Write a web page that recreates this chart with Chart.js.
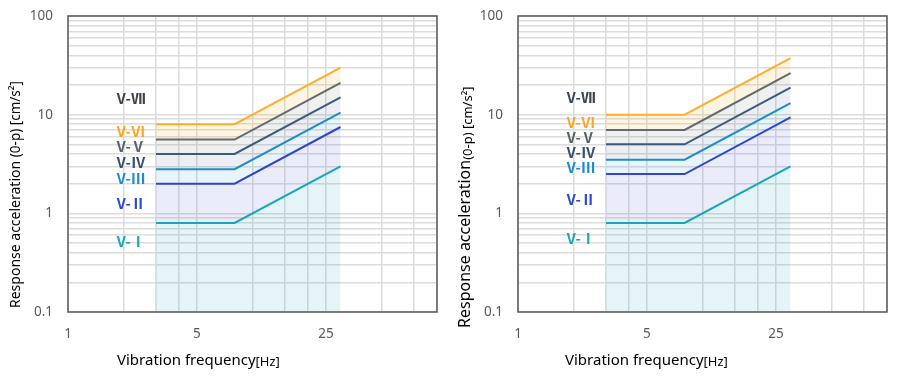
<!DOCTYPE html>
<html>
<head>
<meta charset="utf-8">
<script src="https://cdn.jsdelivr.net/npm/chart.js@4.4.1/dist/chart.umd.min.js"></script>
<style>
  html, body { margin:0; padding:0; background:#fff; }
  .wrap { display:flex; width:914px; height:384px; }
  canvas { display:block; }
</style>
</head>
<body>
<div class="wrap">
  <canvas id="chart-left" width="450" height="384"></canvas>
  <canvas id="chart-right" width="464" height="384"></canvas>
</div>
<script>
/* ─── Data ────────────────────────────────────────────────────────────── */
const freqHz     = [3, 8, 30];
const gradeNames = ["V-Ⅰ", "V-Ⅱ", "V-Ⅲ", "V-Ⅳ", "V-Ⅴ", "V-Ⅵ"];
const labelNames = ["V-Ⅰ", "V-Ⅱ", "V-Ⅲ", "V-Ⅳ", "V-Ⅴ", "V-Ⅵ", "V-Ⅶ"];

// acceleration [cm/s²] at 3, 8, 30 Hz, one row per grade
const leftValues = [
  [0.8, 0.8, 3.0],
  [2.0, 2.0, 7.5],
  [2.8, 2.8, 10.5],
  [4.0, 4.0, 15],
  [5.6, 5.6, 21],
  [8.0, 8.0, 30],
];
const rightValues = [
  [0.8, 0.8, 3.0],
  [2.5, 2.5, 9.4],
  [3.5, 3.5, 13.1],
  [5.0, 5.0, 18.8],
  [7.0, 7.0, 26.3],
  [10,  10,  37.5],
];

// where the grade names sit (value on y axis)
const leftLabelY  = [0.52, 1.27, 2.28, 3.3, 4.8, 6.8, 14.7];
const rightLabelY = [0.56, 1.39, 2.93, 4.17, 5.9, 8.4, 15.0];
const labelHz = 1.84;

const xTicks  = [1, 2, 3, 4, 5, 10, 15, 20, 25, 50, 75, 100];
const xLabels = [1, 5, 25];
const yTicks  = [0.1, 0.2, 0.3, 0.4, 0.5, 0.6, 0.7, 0.8, 0.9,
                 1, 2, 3, 4, 5, 6, 7, 8, 9,
                 10, 20, 30, 40, 50, 60, 70, 80, 90, 100];
const yLabels = [0.1, 1, 10, 100];

/* ─── Styles ──────────────────────────────────────────────────────────── */
const FONT = '"Noto Sans", "Open Sans", sans-serif';
const lineColors  = ["#15a8b6", "#2f47cf", "#1f8ccb", "#3b5a80", "#616a6c", "#fbb032"];
const fillColors  = ["rgba(21,168,182,.11)", "rgba(47,71,207,.10)", "rgba(31,140,203,.10)",
                     "rgba(59,90,128,.10)", "rgba(97,106,108,.10)", "rgba(251,176,50,.14)"];
const labelColors = ["#17a8b6", "#2f47cf", "#1f8ccb", "#35506e", "#59626a", "#f9a825", "#3b4450"];

/* ─── Text helper: draws pieces one after another on a baseline ───────── */
function drawRun(ctx, pieces, x, y, rotate) {
  ctx.save();
  ctx.translate(x, y);
  if (rotate) ctx.rotate(-Math.PI / 2);
  ctx.textAlign = "left";
  ctx.textBaseline = "alphabetic";
  ctx.fillStyle = "#000";
  let cx = 0;
  pieces.forEach(p => {
    ctx.font = `${p.size}px ${FONT}`;
    ctx.fillText(p.text, cx, p.dy || 0);
    cx += ctx.measureText(p.text).width;
  });
  ctx.restore();
}

/* ─── Chart builder ───────────────────────────────────────────────────── */
function buildChart(id, values, labelY, opts) {
  const overlay = {
    id: "overlay",
    afterDraw(chart) {
      const { ctx, chartArea: a, scales } = chart;
      // plot frame
      ctx.save();
      ctx.strokeStyle = "#595959";
      ctx.lineWidth = 1.5;
      ctx.strokeRect(a.left, a.top, a.right - a.left, a.bottom - a.top);
      ctx.restore();

      // grade names
      ctx.save();
      ctx.font = `bold 14.5px "Noto Sans CJK JP", ${FONT}`;
      ctx.textAlign = "left";
      ctx.textBaseline = "middle";
      labelNames.forEach((name, i) => {
        ctx.fillStyle = labelColors[i];
        ctx.fillText(name, scales.x.getPixelForValue(labelHz), scales.y.getPixelForValue(labelY[i]));
      });
      ctx.restore();

      // axis titles
      drawRun(ctx, opts.yTitle, 20, opts.yTitleStart, true);
      drawRun(ctx, [
        { text: "Vibration frequency", size: 15 },
        { text: "[Hz]", size: 13, dy: 1 },
      ], opts.xTitleStart, 365, false);
    },
  };

  // tick marks are invisible; their length only spaces the labels off the frame
  const grid = len => ({
    color: "#dcdcdc", lineWidth: 1.5,
    drawTicks: true, tickLength: len, tickColor: "rgba(0,0,0,0)",
  });

  return new Chart(document.getElementById(id), {
    type: "line",
    data: {
      datasets: values.map((row, i) => ({
        label: gradeNames[i],
        data: row.map((v, j) => ({ x: freqHz[j], y: v })),
        borderColor: lineColors[i],
        backgroundColor: fillColors[i],
        borderWidth: 2,
        pointRadius: 0,
        tension: 0,
        fill: i === 0 ? "start" : "-1",
      })),
    },
    options: {
      responsive: false,
      animation: false,
      devicePixelRatio: 1,
      layout: { padding: { top: 16, right: opts.padRight, left: 0, bottom: 0 } },
      plugins: { legend: { display: false }, tooltip: { enabled: false } },
      scales: {
        x: {
          type: "logarithmic", min: 1, max: 100,
          afterBuildTicks: s => { s.ticks = xTicks.map(v => ({ value: v })); },
          afterFit: s => { s.height = 72; },
          grid: grid(14),
          border: { display: false },
          ticks: {
            autoSkip: false, maxRotation: 0, padding: 0,
            color: "#595959", font: { family: FONT, size: 13.5 },
            callback: v => xLabels.includes(v) ? String(v) : "",
          },
        },
        y: {
          type: "logarithmic", min: 0.1, max: 100,
          afterBuildTicks: s => { s.ticks = yTicks.map(v => ({ value: v })); },
          afterFit: s => { s.width = 68; },
          grid: grid(15),
          border: { display: false },
          ticks: {
            autoSkip: false, padding: 0,
            color: "#595959", font: { family: FONT, size: 13.5 },
            callback: v => yLabels.includes(v) ? String(v) : "",
          },
        },
      },
    },
    plugins: [overlay],
  });
}

buildChart("chart-left", leftValues, leftLabelY, {
  padRight: 13,
  yTitleStart: 308,
  xTitleStart: 117,
  yTitle: [
    { text: "Response acceleration ", size: 14 },
    { text: "(0-p) [cm/s²]", size: 13.5 },
  ],
});

buildChart("chart-right", rightValues, rightLabelY, {
  padRight: 27,
  yTitleStart: 328,
  xTitleStart: 115,
  yTitle: [
    { text: "Response acceleration", size: 16 },
    { text: "(0-p) [cm/s²]", size: 13, dy: 2 },
  ],
});
</script>
</body>
</html>
